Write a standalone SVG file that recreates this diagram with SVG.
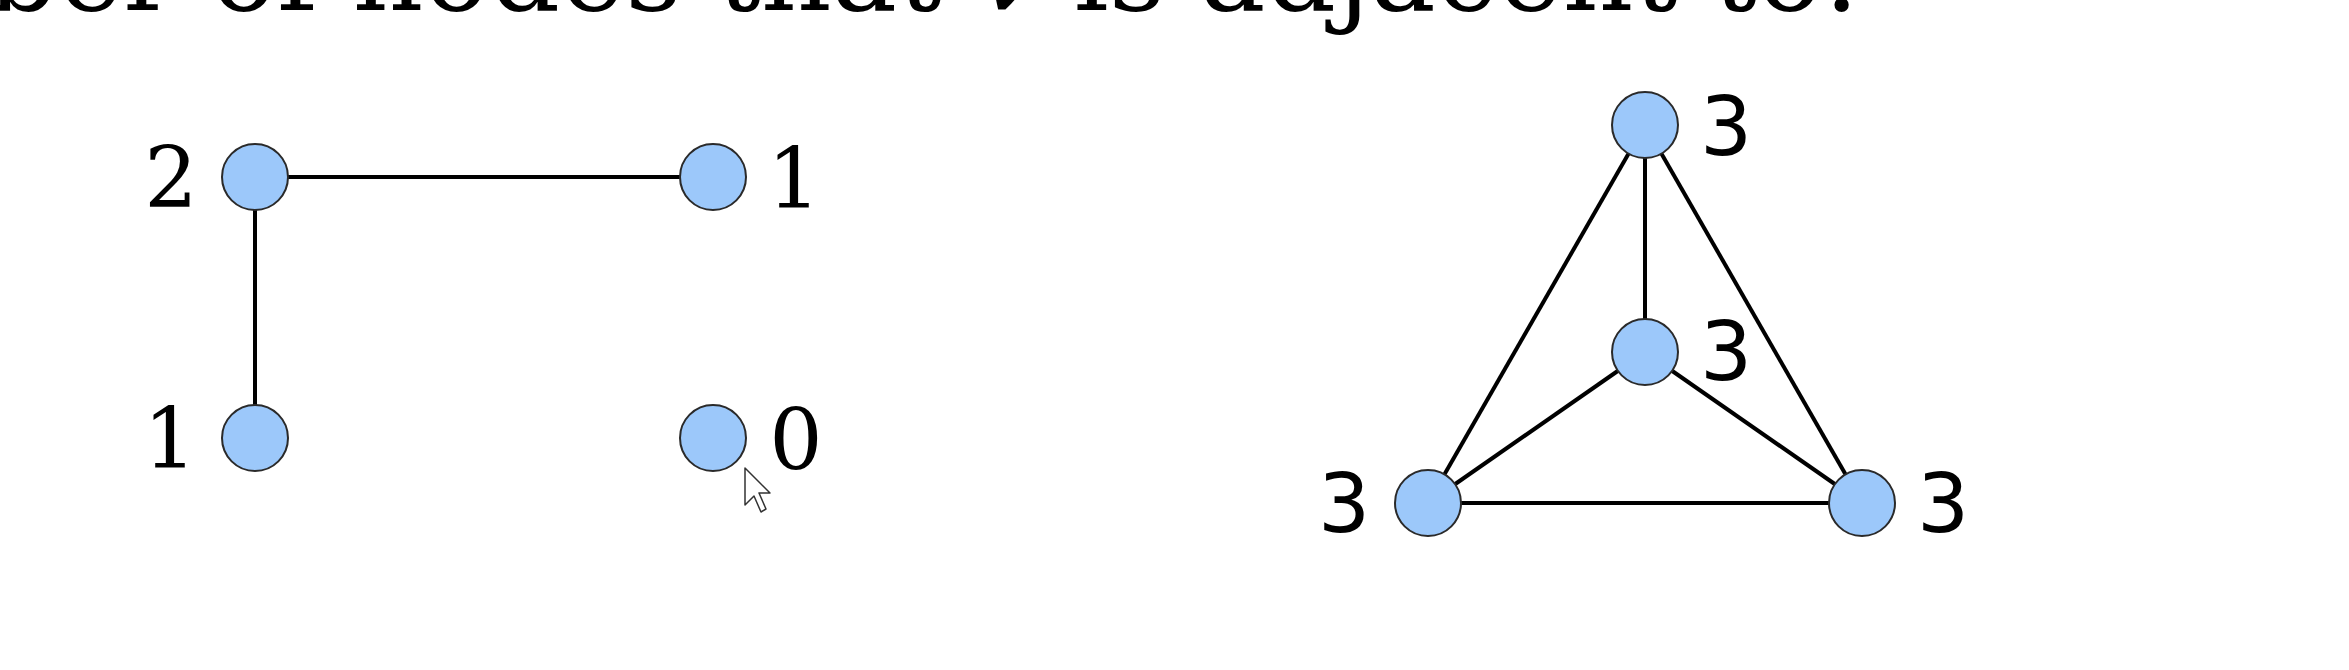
<svg xmlns="http://www.w3.org/2000/svg" width="2349" height="670" viewBox="0 0 2349 670">
  <style>
    .node { fill: #9cc8fa; stroke: #2a2a2a; stroke-width: 2; }
    .edge { stroke: #000; stroke-width: 4; fill: none; }
    .lblS { font-family: "DejaVu Serif", "Liberation Serif", serif; font-size: 84px; fill: #000; text-anchor: middle; }
    .lblN { font-family: "DejaVu Sans", "Liberation Sans", sans-serif; font-size: 82px; fill: #000; text-anchor: middle; }
    .title { font-family: "DejaVu Serif", "Liberation Serif", serif; font-size: 110px; fill: #000; }
  </style>
  <rect x="0" y="0" width="2349" height="670" fill="#fff"/>
  <text class="title" x="1860" y="10" text-anchor="end">ber of nodes that <tspan font-style="italic">v</tspan> is adjacent to:</text>

  <g id="connectors">
    <line class="edge" x1="255" y1="177" x2="713" y2="177"/>
    <line class="edge" x1="255" y1="177" x2="255" y2="438"/>
    <line class="edge" x1="1645" y1="125" x2="1645" y2="352"/>
    <line class="edge" x1="1645" y1="125" x2="1428" y2="503"/>
    <line class="edge" x1="1645" y1="125" x2="1862" y2="503"/>
    <line class="edge" x1="1645" y1="352" x2="1428" y2="503"/>
    <line class="edge" x1="1645" y1="352" x2="1862" y2="503"/>
    <line class="edge" x1="1428" y1="503" x2="1862" y2="503"/>
  </g>

  <g id="node-a">
    <circle class="node" cx="255" cy="177" r="33"/>
    <text class="lblS" x="171" y="207">2</text>
  </g>
  <g id="node-b">
    <circle class="node" cx="713" cy="177" r="33"/>
    <text class="lblS" x="794" y="208">1</text>
  </g>
  <g id="node-c">
    <circle class="node" cx="255" cy="438" r="33"/>
    <text class="lblS" x="170" y="468">1</text>
  </g>
  <g id="node-d">
    <circle class="node" cx="713" cy="438" r="33"/>
    <text class="lblS" x="796" y="469">0</text>
  </g>

  <g id="node-top">
    <circle class="node" cx="1645" cy="125" r="33"/>
    <text class="lblN" x="1726" y="155">3</text>
  </g>
  <g id="node-mid">
    <circle class="node" cx="1645" cy="352" r="33"/>
    <text class="lblN" x="1726" y="380">3</text>
  </g>
  <g id="node-bl">
    <circle class="node" cx="1428" cy="503" r="33"/>
    <text class="lblN" x="1344" y="532">3</text>
  </g>
  <g id="node-br">
    <circle class="node" cx="1862" cy="503" r="33"/>
    <text class="lblN" x="1943" y="532">3</text>
  </g>

  <polygon points="745,468 745,505 754,496 761,512 766,509 759,493 770,493" fill="#fff" stroke="#333" stroke-width="1.5" stroke-linejoin="round"/>
</svg>
